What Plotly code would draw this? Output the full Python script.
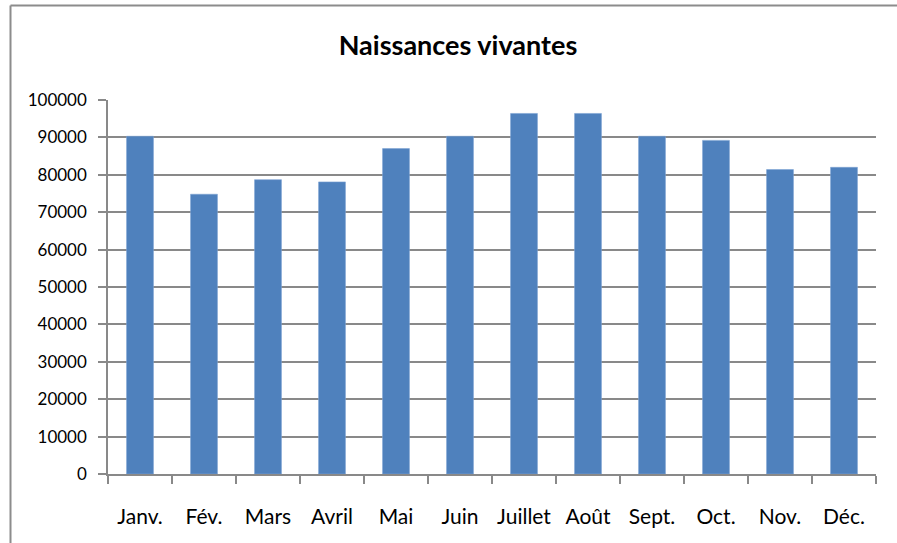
import plotly.graph_objects as go

months = ["Janv.", "Fév.", "Mars", "Avril", "Mai", "Juin", "Juillet", "Août", "Sept.", "Oct.", "Nov.", "Déc."]
births = [90300, 74800, 78700, 78100, 87000, 90300, 96400, 96400, 90300, 89200, 81400, 82000]
y_ticks = [0, 10000, 20000, 30000, 40000, 50000, 60000, 70000, 80000, 90000, 100000]

FONT = "Lato, 'Open Sans', sans-serif"
GRID = "#898989"

fig = go.Figure(go.Bar(
    x=months, y=births,
    marker=dict(color="#4F81BD", line=dict(color="#7EA3D3", width=0.6)),
))

W, H = 897, 543
L, R, T, B = 108, 21, 100, 69
pw, ph = W - L - R, H - T - B

def px_x(x):
    return (x - L) / pw

def px_y(y):
    return (H - B - y) / ph

fig.update_layout(
    width=W, height=H,
    margin=dict(l=L, r=R, t=T, b=B, pad=0),
    paper_bgcolor="white", plot_bgcolor="white",
    bargap=0.58,
    showlegend=False,
    title=dict(text="<b>Naissances vivantes</b>", x=458 / W, xref="container",
               xanchor="center", y=1 - 46 / H, yanchor="middle",
               font=dict(family=FONT, size=27, color="black")),
    font=dict(family=FONT, color="black"),
    xaxis=dict(
        type="category", showgrid=False, showline=True, linecolor=GRID, linewidth=1.5,
        ticks="outside", tickson="boundaries", ticklen=8, tickcolor=GRID, tickwidth=1.5,
        tickfont=dict(size=21, family=FONT, color="black"), ticklabelstandoff=23,
    ),
    yaxis=dict(
        range=[0, 100000], tickvals=y_ticks, ticktext=[str(v) for v in y_ticks],
        showgrid=True, gridcolor=GRID, gridwidth=1.5,
        showline=True, linecolor=GRID, linewidth=1.5,
        ticks="outside", ticklen=8, tickcolor=GRID, tickwidth=1.5,
        tickfont=dict(size=17, family=FONT, color="black"), ticklabelstandoff=8,
        zeroline=False,
    ),
    shapes=[
        dict(type="line", xref="paper", yref="paper",
             x0=px_x(10.5), x1=px_x(W), y0=px_y(5.5), y1=px_y(5.5),
             line=dict(color="#8C8C8C", width=2)),
        dict(type="line", xref="paper", yref="paper",
             x0=px_x(10.5), x1=px_x(10.5), y0=px_y(5.5), y1=px_y(H),
             line=dict(color="#8C8C8C", width=2)),
    ],
)

fig.write_html("out.html", config={"displayModeBar": False},
               post_script="document.documentElement.style.overflow='hidden';document.body.style.margin='0';document.body.style.overflow='hidden';")
